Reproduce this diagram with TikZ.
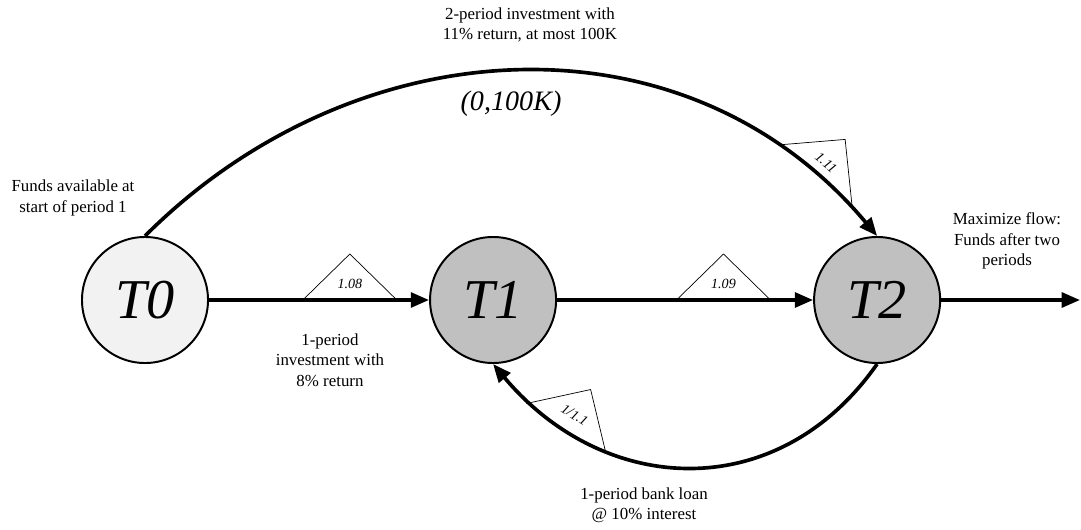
\documentclass[tikz,border=0pt]{standalone}
\usepackage{fontspec}
\setmainfont{Liberation Serif}
\usetikzlibrary{arrows.meta,positioning}

\definecolor{startgray}{HTML}{F2F2F2}
\definecolor{stagegray}{HTML}{C0C0C0}

\tikzset{
  period/.style={circle, draw, line width=1.4pt, minimum size=3.15cm, inner sep=0pt,
    font=\fontsize{40}{40}\selectfont\itshape},
  flow/.style={-{Triangle[length=13pt,width=10.5pt]}, line width=2.6pt},
  note/.style={align=center, font=\fontsize{12}{14.5}\selectfont},
  gain/.style={font=\fontsize{10}{10}\selectfont\itshape, inner sep=0pt, transform shape},
  pics/mult/.style={code={
    \draw[line width=0.5pt, arrows=-] (-47,0) -- (0,46) -- (47,0);
    \node[gain] (-val) at (0,16) {#1};
  }}
}

\begin{document}
\begin{tikzpicture}[x=0.025cm, y=0.025cm]
\useasboundingbox (0,0) rectangle (1081,529);

% periods
\node[period, fill=startgray] (T0) at (145,229) {T0};
\node[period, fill=stagegray, right=5.5cm of T0] (T1) {T1};
\node[period, fill=stagegray, right=6.4cm of T1] (T2) {T2};
\coordinate (sink) at (1080,229);

% arcs with their multipliers
\draw[flow] (T0) -- pic[pos=.64, sloped] (g01) {mult=1.08} (T1);
\draw[flow] (T1) -- pic[pos=.65, sloped] (g12) {mult=1.09} (T2);
\draw[flow] (T2) -- (sink);
\draw[flow] (T0.north) .. controls +(45:298) and +(130:298) .. pic[pos=.9, sloped] (g02) {mult=1.11} (T2.north);
\draw[flow] (T2.south) .. controls +(-125:173) and +(-50:173) .. pic[pos=.8, sloped] (g21) {mult=1/1.1} (T1.south);

% notes
\node[note] (topnote) at (530,504) {2-period investment with\\11\% return, at most 100K};
\node[font=\fontsize{20}{20}\selectfont\itshape] (cap02) at (511,425) {(0,100K)};
\node[note] (srcnote) at (73,331) {Funds available at\\start of period 1};
\node[note] (g01note) at (330,169) {1-period\\investment with\\8\% return};
\node[note] (g21note) at (644,24) {1-period bank loan\\@ 10\% interest};
\node[note] (sinknote) at (1007,288) {Maximize flow:\\Funds after two\\periods};
\end{tikzpicture}
\end{document}
